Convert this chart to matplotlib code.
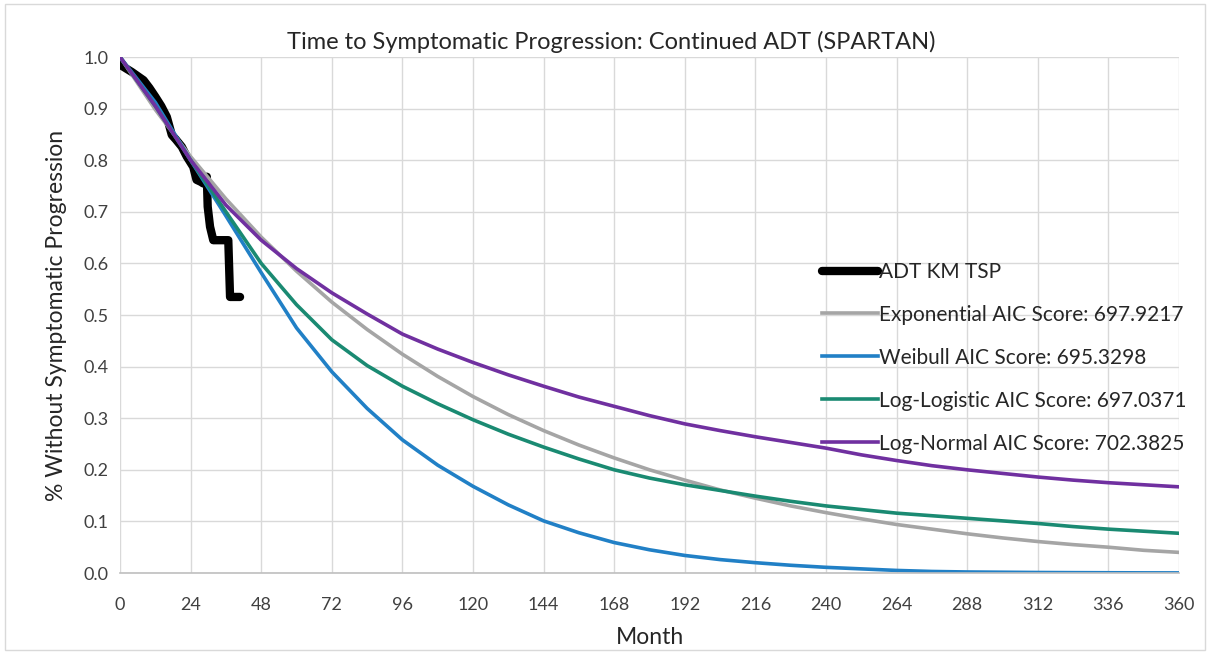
import numpy as np
import matplotlib.pyplot as plt
from matplotlib.patches import Rectangle

plt.rcParams['font.family'] = ['Lato', 'DejaVu Sans']

# Months for the fitted curves
months = list(range(0, 361, 12))

exponential = [1.0, 0.898, 0.807, 0.725, 0.651, 0.585, 0.525, 0.472, 0.424, 0.381, 0.342,
               0.307, 0.276, 0.248, 0.223, 0.200, 0.180, 0.161, 0.145, 0.130, 0.117,
               0.105, 0.094, 0.085, 0.076, 0.068, 0.061, 0.055, 0.050, 0.044, 0.040]
weibull = [1.0, 0.912, 0.800, 0.692, 0.582, 0.475, 0.390, 0.319, 0.258, 0.209, 0.168,
           0.132, 0.101, 0.078, 0.059, 0.045, 0.034, 0.026, 0.020, 0.015, 0.011,
           0.008, 0.005, 0.003, 0.002, 0.0015, 0.001, 0.0007, 0.0005, 0.0003, 0.0002]
log_logistic = [1.0, 0.905, 0.800, 0.700, 0.600, 0.520, 0.452, 0.402, 0.362, 0.328, 0.297,
                0.269, 0.244, 0.221, 0.200, 0.184, 0.171, 0.160, 0.149, 0.139, 0.130,
                0.123, 0.116, 0.111, 0.106, 0.101, 0.096, 0.090, 0.085, 0.081, 0.077]
log_normal = [1.0, 0.905, 0.800, 0.713, 0.645, 0.590, 0.543, 0.502, 0.463, 0.434, 0.408,
              0.384, 0.362, 0.341, 0.323, 0.305, 0.289, 0.276, 0.264, 0.253, 0.242,
              0.229, 0.218, 0.208, 0.200, 0.193, 0.186, 0.180, 0.175, 0.171, 0.167]

# Kaplan-Meier observed data
km_t = [0, 2, 4, 6, 8, 10, 12, 14, 15.9, 17.6, 19, 21, 22.7, 24.9, 26, 27.5, 28.3, 29.5,
        29.8, 30.6, 31.7, 36.8, 37.4, 40.8]
km_s = [0.985, 0.978, 0.971, 0.963, 0.955, 0.940, 0.923, 0.905, 0.884, 0.849, 0.840,
        0.826, 0.807, 0.787, 0.762, 0.758, 0.755, 0.768, 0.710, 0.671, 0.645, 0.645,
        0.535, 0.535]

labels = ['ADT KM TSP',
          'Exponential AIC Score: 697.9217',
          'Weibull AIC Score: 695.3298',
          'Log-Logistic AIC Score: 697.0371',
          'Log-Normal AIC Score: 702.3825']

fig = plt.figure(figsize=(12.1, 6.53), dpi=100)
ax = fig.add_axes([0.0992, 0.1225, 0.8752, 0.7902])

# KM drawn first so the fitted curves sit on top of it
ax.plot(km_t, km_s, color='black', lw=6, solid_capstyle='round',
        solid_joinstyle='round', label=labels[0])
ax.plot(months, exponential, color='#a5a5a5', lw=2.6, label=labels[1])
ax.plot(months, weibull, color='#2180c6', lw=2.6, label=labels[2])
ax.plot(months, log_logistic, color='#1a8a72', lw=2.6, label=labels[3])
ax.plot(months, log_normal, color='#7030a0', lw=2.6, label=labels[4])

ax.set_xlim(0, 360)
ax.set_ylim(0, 1.0)
ax.set_xticks(range(0, 361, 24))
ax.set_yticks(np.arange(0, 1.01, 0.1))
ax.set_yticklabels([f'{v:.1f}' for v in np.arange(0, 1.01, 0.1)])
ax.grid(True, color='#d9d9d9', lw=1)
ax.set_axisbelow(True)
for s in ['top', 'right', 'left']:
    ax.spines[s].set_visible(False)
ax.spines['bottom'].set_color('#bfbfbf')
ax.spines['bottom'].set_linewidth(1.2)
ax.tick_params(length=0, labelsize=13, colors='#404040')
ax.tick_params(axis='x', pad=17)
ax.tick_params(axis='y', pad=8)

fig.text(0.505, 0.935, 'Time to Symptomatic Progression: Continued ADT (SPARTAN)',
         fontsize=17, color='#262626', ha='center', va='center')
ax.set_xlabel('Month', fontsize=16.5, color='#262626', labelpad=10)
ax.set_ylabel('% Without Symptomatic Progression', fontsize=16.5, color='#262626', labelpad=12)

leg = ax.legend(loc='upper left', bbox_to_anchor=(0.663, 0.603), frameon=False,
                fontsize=15, labelspacing=1.1, handlelength=2.7, handletextpad=0.05,
                borderpad=0, borderaxespad=0)
for t in leg.get_texts():
    t.set_color('#262626')

fig.patches.append(Rectangle((0.004, 0.004), 0.992, 0.99, transform=fig.transFigure,
                             fill=False, edgecolor='#d9d9d9', lw=1))

fig.savefig('out.png', dpi=100)
